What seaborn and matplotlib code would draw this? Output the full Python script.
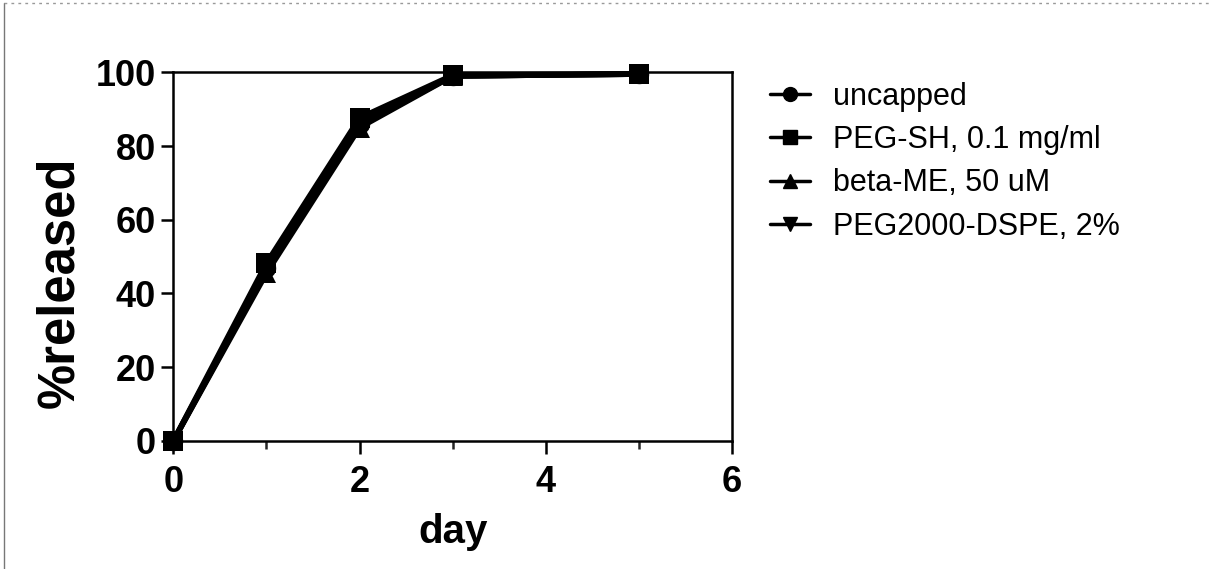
import numpy as np
import pandas as pd
import matplotlib
matplotlib.use("Agg")
import matplotlib.pyplot as plt
import seaborn as sns
from matplotlib.lines import Line2D
from matplotlib.ticker import MultipleLocator

days = [0, 1, 2, 3, 5]
uncapped = [0, 47.0, 86.0, 99.0, 99.5]
peg_sh = [0, 48.2, 87.6, 99.2, 99.6]
beta_me = [0, 45.5, 85.0, 99.0, 99.5]
peg2000_dspe = [0, 46.2, 85.8, 99.0, 99.5]

series_names = ['uncapped', 'PEG-SH, 0.1 mg/ml', 'beta-ME, 50 uM', 'PEG2000-DSPE, 2%']
series_values = [uncapped, peg_sh, beta_me, peg2000_dspe]
markers = ['o', 's', '^', 'v']

rows = []
for name, vals in zip(series_names, series_values):
    for d, v in zip(days, vals):
        rows.append({'day': d, 'released': v, 'group': name})
df = pd.DataFrame(rows)

sns.set_style("ticks")
plt.rcParams['font.family'] = ['Liberation Sans', 'DejaVu Sans']
plt.rcParams['text.color'] = 'black'
plt.rcParams['axes.labelcolor'] = 'black'

fig = plt.figure(figsize=(12.12, 5.69), dpi=100)
ax = fig.add_axes([0.143, 0.225, 0.461, 0.648])

sns.lineplot(data=df, x='day', y='released', hue='group', style='group',
             markers=markers, dashes=False, palette=['black'] * 4,
             linewidth=4, markersize=14, markeredgewidth=0,
             ax=ax, legend=False)
for ln in ax.get_lines():
    ln.set_clip_on(False)

ax.set_xlim(0, 6)
ax.set_ylim(0, 100)
ax.xaxis.set_major_locator(MultipleLocator(2))
ax.xaxis.set_minor_locator(MultipleLocator(1))
ax.yaxis.set_major_locator(MultipleLocator(20))
for s in ax.spines.values():
    s.set_linewidth(1.8)
    s.set_color('black')
ax.tick_params(which='major', direction='out', length=9, width=1.8,
               labelsize=26, colors='black')
ax.tick_params(axis='x', which='major', pad=8)
ax.tick_params(which='minor', axis='x', direction='out', length=6, width=1.8)
for lab in ax.get_xticklabels() + ax.get_yticklabels():
    lab.set_fontweight('bold')
ax.set_xlabel('day', fontsize=29, fontweight='bold', labelpad=10)
ax.set_ylabel('%released', fontsize=36.5, fontweight='bold')
ax.yaxis.set_label_coords(-0.16, 0.43)

handles = [Line2D([0], [0], color='black', linewidth=2.5, marker=m, markersize=10)
           for m in markers]
fig.legend(handles, series_names, loc='upper left', bbox_to_anchor=(0.613, 0.905),
           frameon=False, fontsize=22, handlelength=1.3, handletextpad=0.75,
           labelspacing=0.44, labelcolor='black')

fig.add_artist(Line2D([0.003, 0.003], [0.0, 0.995], transform=fig.transFigure,
                      color='#777777', linewidth=1))
fig.add_artist(Line2D([0.003, 1.0], [0.995, 0.995], transform=fig.transFigure,
                      color='#999999', linewidth=1, linestyle=(0, (2, 3))))

fig.savefig('out.png', dpi=100)
